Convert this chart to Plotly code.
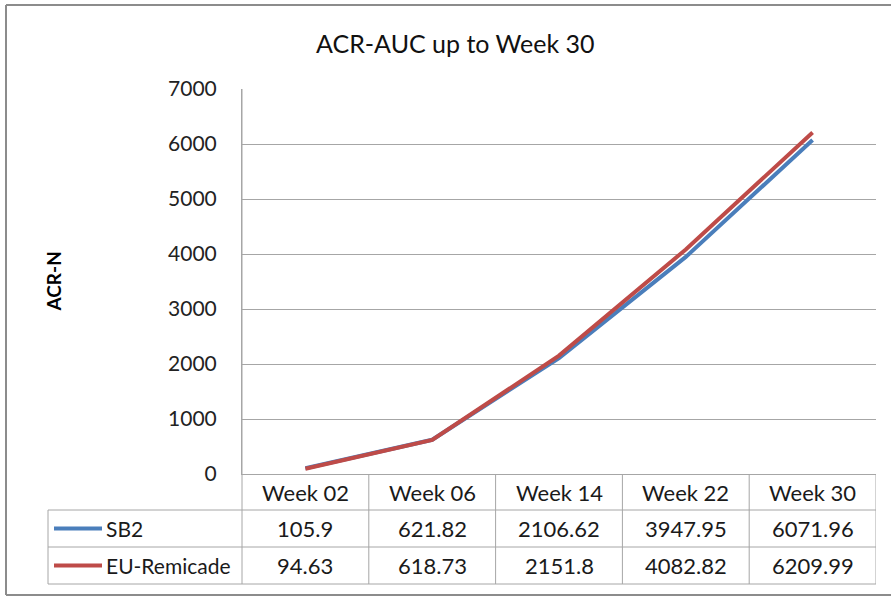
import plotly.graph_objects as go

weeks = ["Week 02", "Week 06", "Week 14", "Week 22", "Week 30"]
sb2 = [105.9, 621.82, 2106.62, 3947.95, 6071.96]
remicade = [94.63, 618.73, 2151.8, 4082.82, 6209.99]
series_names = ["SB2", "EU-Remicade"]
series_colors = ["#4A7EBB", "#BE4B48"]
y_ticks = [0, 1000, 2000, 3000, 4000, 5000, 6000, 7000]

W, H = 891, 596
L, R, T, B = 242, 15, 89, 122
PW = W - L - R
PH = H - T - B


def px(x):
    return (x - L) / PW


def py(y):
    return (H - B - y) / PH


FONT = "Lato, Carlito, Calibri, sans-serif"
GRID = "#A6A6A6"
FRAME = "#8C8C8C"

fig = go.Figure()
for name, vals, col in zip(series_names, [sb2, remicade], series_colors):
    fig.add_trace(go.Scatter(
        x=weeks, y=vals, mode="lines", name=name,
        line=dict(color=col, width=4), showlegend=False, hoverinfo="x+y+name",
    ))

shapes = []
annotations = []

# outer frame (top, left, bottom; right edge lies outside the picture)
for (x0, y0, x1, y1) in [(6, 5, 891, 5), (6, 5, 6, 595), (6, 595, 891, 595)]:
    shapes.append(dict(type="line", xref="paper", yref="paper",
                       x0=px(x0), x1=px(x1), y0=py(y0), y1=py(y1),
                       line=dict(color=FRAME, width=2), layer="below"))

row_y = [474, 510, 547, 584]
row_centers = [(row_y[i] + row_y[i + 1]) / 2 for i in range(3)]

for yy in row_y[1:]:
    shapes.append(dict(type="line", xref="paper", yref="paper",
                       x0=px(48), x1=1, y0=py(yy), y1=py(yy),
                       line=dict(color=GRID, width=1)))
shapes.append(dict(type="line", xref="paper", yref="paper",
                   x0=px(48), x1=px(48), y0=py(row_y[1]), y1=py(row_y[3]),
                   line=dict(color=GRID, width=1)))
shapes.append(dict(type="line", xref="paper", yref="paper",
                   x0=0, x1=0, y0=py(row_y[3]), y1=1,
                   line=dict(color=GRID, width=1)))
for i in range(len(weeks)):
    xb = i + 0.5
    shapes.append(dict(type="line", xref="x", yref="paper",
                       x0=xb, x1=xb, y0=py(row_y[3]), y1=py(row_y[0]),
                       line=dict(color=GRID, width=1)))

TXT = "#1a1a1a"
for w in weeks:
    annotations.append(dict(x=w, xref="x", y=py(row_centers[0]), yref="paper",
                            text=w, showarrow=False, xanchor="center", yanchor="middle",
                            font=dict(family=FONT, size=22, color=TXT)))
for r, vals in enumerate([sb2, remicade]):
    for w, v in zip(weeks, vals):
        annotations.append(dict(x=w, xref="x", y=py(row_centers[r + 1]), yref="paper",
                                text=f"{v:g}", showarrow=False, xanchor="center",
                                yanchor="middle",
                                font=dict(family=FONT, size=22, color=TXT)))
    shapes.append(dict(type="line", xref="paper", yref="paper",
                       x0=px(54), x1=px(102),
                       y0=py(row_centers[r + 1]), y1=py(row_centers[r + 1]),
                       line=dict(color=series_colors[r], width=4)))
    annotations.append(dict(x=px(104), xref="paper", y=py(row_centers[r + 1]), yref="paper",
                            text=series_names[r], showarrow=False, xanchor="left",
                            yanchor="middle",
                            font=dict(family=FONT, size=21, color=TXT)))

annotations.append(dict(x=px(455), xref="paper", y=py(43), yref="paper",
                        text="ACR-AUC up to Week 30", showarrow=False,
                        xanchor="center", yanchor="middle",
                        font=dict(family=FONT, size=25, color="#111")))
annotations.append(dict(x=px(53), xref="paper", y=0.5, yref="paper",
                        text="<b>ACR-N</b>", showarrow=False, textangle=-90,
                        xanchor="center", yanchor="middle",
                        font=dict(family=FONT, size=19, color="#000")))

fig.update_layout(
    width=W, height=H,
    margin=dict(l=L, r=R, t=T, b=B, pad=0),
    paper_bgcolor="white", plot_bgcolor="white",
    shapes=shapes, annotations=annotations,
    xaxis=dict(type="category", categoryorder="array", categoryarray=weeks,
               range=[-0.5, len(weeks) - 0.5], showgrid=False, showticklabels=False,
               showline=True, linecolor=GRID, linewidth=1, zeroline=False, ticks=""),
    yaxis=dict(range=[0, 7000], tickvals=y_ticks, showgrid=True, gridcolor=GRID,
               gridwidth=1, zeroline=False, showline=True, linecolor=GRID,
               linewidth=1, ticks="", ticklabelstandoff=20,
               tickfont=dict(family=FONT, size=21, color="#222")),
    showlegend=False,
)

fig.write_html("out.html", config={"displayModeBar": False},
               post_script="document.body.style.margin='0';document.body.style.overflow='hidden';")
